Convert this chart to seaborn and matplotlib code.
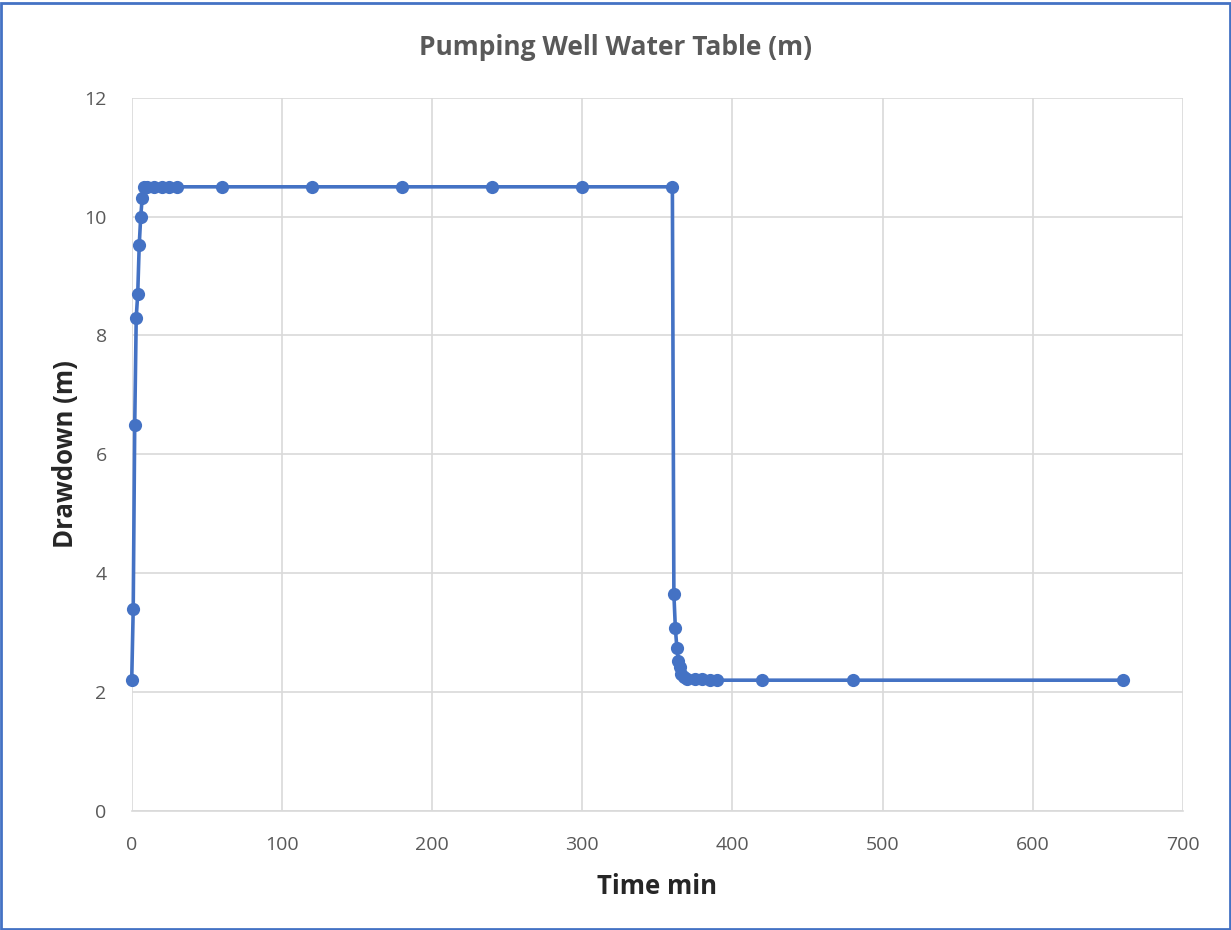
import matplotlib
matplotlib.use("Agg")
import matplotlib.pyplot as plt
import seaborn as sns
import pandas as pd
from matplotlib.patches import Rectangle

time_min = [0, 1, 2, 3, 4, 5, 6, 7, 8, 10, 15, 20, 25, 30, 60, 120, 180, 240, 300, 360,
            361, 362, 363, 364, 365, 366, 368, 370, 375, 380, 385, 390, 420, 480, 660]
drawdown = [2.2, 3.4, 6.5, 8.3, 8.7, 9.52, 10.0, 10.32, 10.5, 10.5, 10.5, 10.5, 10.5, 10.5, 10.5,
            10.5, 10.5, 10.5, 10.5, 10.5,
            3.65, 3.07, 2.74, 2.53, 2.42, 2.3, 2.25, 2.22, 2.22, 2.22, 2.2, 2.2, 2.2, 2.2, 2.2]

df = pd.DataFrame({"Time min": time_min, "Drawdown (m)": drawdown})

sns.set_theme(style="whitegrid")
plt.rcParams['font.family'] = ['Open Sans', 'DejaVu Sans']

fig = plt.figure(figsize=(12.31, 9.30), dpi=100)
ax = fig.add_axes([0.107, 0.128, 0.854, 0.767])

color = "#4472C4"
sns.lineplot(data=df, x="Time min", y="Drawdown (m)", ax=ax, color=color, linewidth=2.6,
             marker="o", markersize=9.5, markeredgewidth=0, sort=False, clip_on=False)

ax.set_xlim(0, 700)
ax.set_ylim(0, 12)
ax.set_xticks(range(0, 701, 100))
ax.set_yticks(range(0, 13, 2))
ax.grid(True, color="#D9D9D9", linewidth=1.2)
for s in ["top", "right", "left"]:
    ax.spines[s].set_visible(False)
ax.spines["bottom"].set_visible(True)
ax.spines["bottom"].set_color("#D9D9D9")
ax.spines["bottom"].set_linewidth(1.2)
ax.tick_params(axis="both", labelsize=14, colors="#595959", length=0)
ax.tick_params(axis="x", pad=18)
ax.tick_params(axis="y", pad=18)
ax.set_xlabel("Time min", fontsize=18.5, fontweight="bold", color="#262626", labelpad=14)
ax.set_ylabel("Drawdown (m)", fontsize=18.5, fontweight="bold", color="#262626", labelpad=4)
fig.text(0.5, 0.949, "Pumping Well Water Table (m)", ha="center", va="center",
         fontsize=19, fontweight="bold", color="#595959")

fig.patches.append(Rectangle((0.001, 0.001), 0.998, 0.996, transform=fig.transFigure,
                             fill=False, edgecolor=color, linewidth=2))

fig.savefig("out.png", dpi=100)
